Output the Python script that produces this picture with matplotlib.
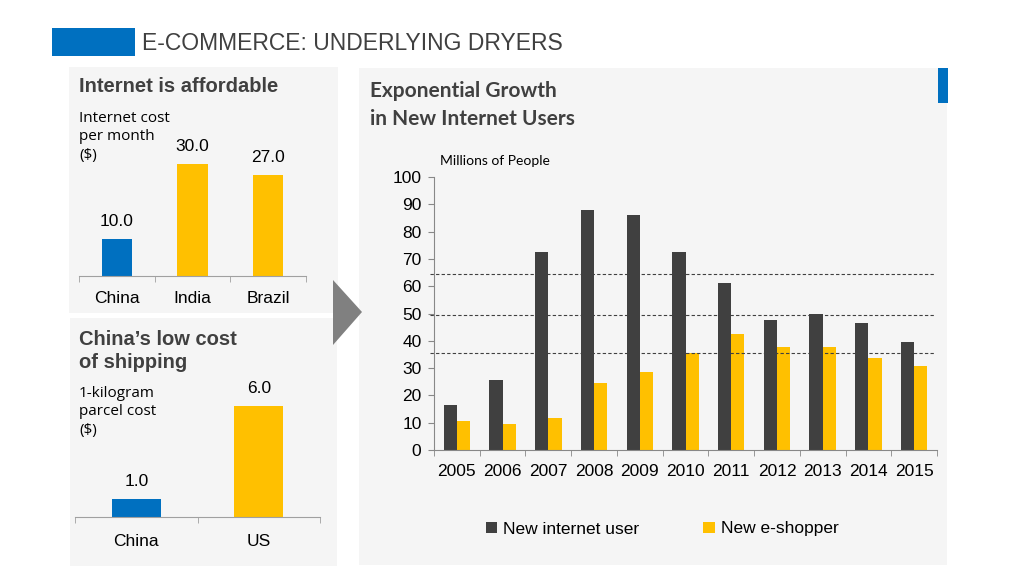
import matplotlib.pyplot as plt
from matplotlib.patches import Rectangle, Polygon

# --- data ---
cost_countries = ['China', 'India', 'Brazil']
cost_values = [10.0, 30.0, 27.0]

ship_countries = ['China', 'US']
ship_values = [1.0, 6.0]

years = ['2005', '2006', '2007', '2008', '2009', '2010',
         '2011', '2012', '2013', '2014', '2015']
new_internet_users = [16.5, 25.7, 72.7, 87.8, 85.9, 72.7, 61.0, 47.7, 49.9, 46.6, 39.7]
new_eshoppers = [10.6, 9.5, 11.7, 24.6, 28.6, 35.6, 42.6, 37.8, 37.8, 33.8, 30.8]
ref_lines = [64.5, 49.5, 35.5]

BLUE = '#0070C0'
YELLOW = '#FFC000'
DARK = '#404040'
PANEL = '#F5F5F5'
TXT = '#404040'
ARIAL = 'Liberation Sans'
CALIBRI = 'Lato'

W, H = 1024, 576
fig = plt.figure(figsize=(W / 100, H / 100), dpi=100)
fig.patch.set_facecolor('white')


def fx(px):
    return px / W


def fy(py):
    return 1 - py / H


def box(x0, y0, x1, y1):
    # pixel box (top-left origin) -> figure rect
    return [fx(x0), fy(y1), (x1 - x0) / W, (y1 - y0) / H]


def panel(x0, y0, x1, y1, color=PANEL):
    fig.add_artist(Rectangle((fx(x0), fy(y1)), (x1 - x0) / W, (y1 - y0) / H,
                             transform=fig.transFigure, facecolor=color,
                             edgecolor='none', zorder=0))


# panels
panel(69, 67, 338, 313)
panel(70, 318, 337, 566)
panel(359, 68, 947, 565)
panel(938, 68, 948, 103, BLUE)
panel(52, 28, 135, 56, BLUE)
fig.add_artist(Polygon([(fx(333), fy(280)), (fx(333), fy(345)), (fx(362), fy(312))],
                       closed=True, transform=fig.transFigure,
                       facecolor='#808080', edgecolor='none', zorder=1))

# header
fig.text(fx(142), fy(43), 'E-COMMERCE: UNDERLYING DRYERS', fontsize=16.5,
         family=ARIAL, color=TXT, va='center', ha='left')


def small_bar_chart(rect, cats, vals, colors, ymax, pad):
    ax = fig.add_axes(rect)
    ax.patch.set_alpha(0)
    x = range(len(cats))
    ax.bar(x, vals, width=0.4, color=colors, zorder=2)
    ax.set_xlim(-0.5, len(cats) - 0.5)
    ax.set_ylim(0, ymax)
    for s in ['top', 'right', 'left']:
        ax.spines[s].set_visible(False)
    ax.spines['bottom'].set_color('#A0A0A0')
    ax.set_yticks([])
    ax.set_xticks(list(x))
    ax.set_xticklabels(cats, fontsize=12.5, family=ARIAL, color='black')
    ax.tick_params(axis='x', which='major', length=0, pad=pad)
    ax.set_xticks([i - 0.5 for i in range(len(cats) + 1)], minor=True)
    ax.tick_params(axis='x', which='minor', length=4, color='#A0A0A0', direction='out')
    for i, v in enumerate(vals):
        ax.annotate(f'{v:.1f}', (i, v), xytext=(0, 7), textcoords='offset points',
                    ha='center', va='bottom', fontsize=12.5, family=ARIAL, color='black')
    return ax


# top-left: internet cost
fig.text(fx(79), fy(86), 'Internet is affordable', fontsize=14.5, family=ARIAL,
         weight='bold', color=TXT, va='center')
fig.text(fx(79), fy(111), 'Internet cost\nper month\n($)', fontsize=11,
         family='Open Sans', color='black', va='top', linespacing=1.3)
small_bar_chart(box(79, 276 - 130.7, 306, 276), cost_countries, cost_values,
                [BLUE, YELLOW, YELLOW], 35, 10.5)

# bottom-left: shipping cost
fig.text(fx(79), fy(351), 'China\u2019s low cost\nof shipping', fontsize=14.5,
         family=ARIAL, weight='bold', color=TXT, va='center', linespacing=1.3)
fig.text(fx(79), fy(386), '1-kilogram\nparcel cost\n($)', fontsize=11,
         family='Open Sans', color='black', va='top', linespacing=1.3)
small_bar_chart(box(75, 517 - 129.5, 320, 517), ship_countries, ship_values,
                [BLUE, YELLOW], 7, 12.5)

# right: exponential growth
fig.text(fx(370), fy(105), 'Exponential Growth\nin New Internet Users', fontsize=15,
         family=CALIBRI, weight='bold', color=TXT, va='center', linespacing=1.45)
fig.text(fx(440), fy(161), 'Millions of People', fontsize=10, family=CALIBRI,
         color='black', va='center')

ax = fig.add_axes(box(434, 177, 937, 450))
ax.patch.set_alpha(0)
xs = range(len(years))
bw = 0.29
b1 = ax.bar([i - bw / 2 for i in xs], new_internet_users, width=bw, color=DARK,
            label='New internet user', zorder=2)
b2 = ax.bar([i + bw / 2 for i in xs], new_eshoppers, width=bw, color=YELLOW,
            label='New e-shopper', zorder=2)
for v in ref_lines:
    ax.axhline(v, xmin=-0.008, xmax=0.995, color='#404040', lw=0.8,
               dashes=(3, 2), clip_on=False, zorder=3)
ax.set_xlim(-0.5, len(years) - 0.5)
ax.set_ylim(0, 100)
ax.set_yticks(range(0, 101, 10))
ax.set_yticklabels([str(v) for v in range(0, 101, 10)], fontsize=12.5,
                   family=ARIAL, color='black')
ax.tick_params(axis='y', length=4, color='#888888', pad=5)
ax.set_xticks(list(xs))
ax.set_xticklabels(years, fontsize=12.5, family=ARIAL, color='black')
ax.tick_params(axis='x', which='major', length=0, pad=10)
ax.set_xticks([i - 0.5 for i in range(len(years) + 1)], minor=True)
ax.tick_params(axis='x', which='minor', length=4, color='#888888')
for s in ['top', 'right']:
    ax.spines[s].set_visible(False)
for s in ['left', 'bottom']:
    ax.spines[s].set_color('#888888')

fig.legend(handles=[b1, b2], loc='center left', bbox_to_anchor=(fx(470), fy(529)),
           ncol=2, frameon=False, handlelength=0.65, handleheight=0.65,
           handletextpad=0.35, columnspacing=3.7,
           prop={'family': ARIAL, 'size': 12.5})

fig.savefig('out.png', dpi=100)
